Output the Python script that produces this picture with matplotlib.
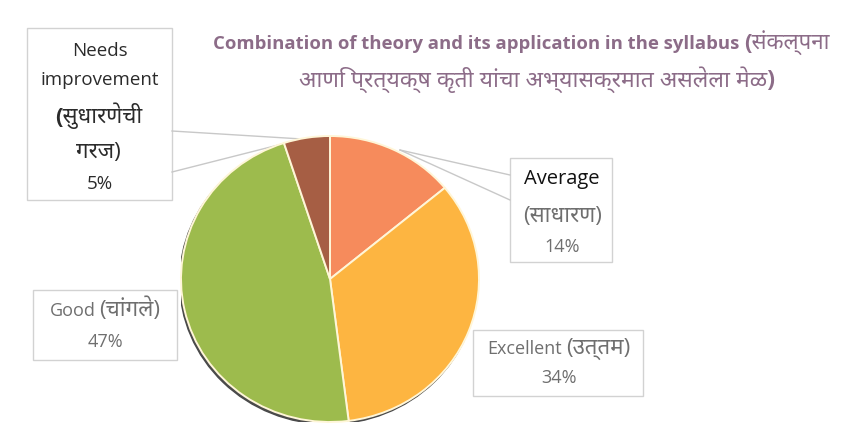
import matplotlib
matplotlib.use("Agg")
import matplotlib.pyplot as plt
from matplotlib import font_manager as fm
from matplotlib.ft2font import FT2Font
from matplotlib.patches import Rectangle, Ellipse

# ---------------- data ----------------
categories = ["Average", "Excellent", "Good", "Needs improvement"]
categories_mr = ["साधारण", "उत्तम", "चांगले", "सुधारणेची गरज"]
values = [14, 34, 47, 5]
colors = ["#F68B5C", "#FDB541", "#9DBB4D", "#A65E44"]
title_en = "Combination of theory and its application in the syllabus"
title_mr1 = "(संकल्पना"
title_mr2 = "आणि प्रत्यक्ष कृती यांचा अभ्यासक्रमात असलेला मेळ)"

# ---------------- fonts ----------------
cands = []
for f in fm.fontManager.ttflist:
    try:
        if 0x0915 in FT2Font(f.fname).get_charmap():
            cands.append(f)
    except Exception:
        pass

def score(f):
    n = f.name.lower()
    s = 0
    if "devanagari" in n:
        s += 10
    if "sans" in n:
        s += 3
    if "noto" in n:
        s += 2
    if "ui" in n:
        s -= 1
    return -s

deva = None
if cands:
    cands.sort(key=score)
    deva = cands[0].name
fams = ["Open Sans"] + ([deva] if deva else []) + ["DejaVu Sans"]
plt.rcParams["font.family"] = fams

W, H = 860, 436
fig = plt.figure(figsize=(W / 100, H / 100), dpi=100)
fig.patch.set_facecolor("white")
renderer = fig.canvas.get_renderer()

# overlay axes in pixel coordinates (y down)
ov = fig.add_axes([0, 0, 1, 1], zorder=0)
ov.set_xlim(0, W)
ov.set_ylim(H, 0)
ov.axis("off")

# pie axes
cx, cy, rx, ry = 330, 279, 149, 143
pa = fig.add_axes([(cx - rx) / W, 1 - (cy + ry) / H, 2 * rx / W, 2 * ry / H], zorder=2)
pa.patch.set_alpha(0)
pa.add_patch(Ellipse((-0.01, -0.016), 2.0, 2.0, color="#4a4a4a", zorder=0))
pa.pie(values, colors=colors, startangle=90, counterclock=False, radius=1.0,
       wedgeprops=dict(edgecolor="#FFF6D8", linewidth=1.4))
pa.set_aspect("auto")
pa.set_xlim(-1, 1)
pa.set_ylim(-1, 1)
pa.axis("off")


def seg_line(x, y_base, segs, ha="center", gap=4):
    """Draw segments (text, fontsize, color, weight) on one baseline."""
    texts = []
    for s, fs_, col, wt in segs:
        t = ov.text(0, y_base, s, fontsize=fs_, color=col, fontweight=wt,
                    va="baseline", ha="left")
        texts.append(t)
    widths = [t.get_window_extent(renderer).width for t in texts]
    total = sum(widths) + gap * (len(texts) - 1)
    x0 = x - total / 2 if ha == "center" else x
    for t, w in zip(texts, widths):
        t.set_x(x0)
        x0 += w + gap


# title
tcol = "#8C6C88"
seg_line(213, 49, [(title_en, 13.3, tcol, "bold"), (title_mr1, 16, tcol, "bold")],
         ha="left", gap=5)
ov.text(537, 80, title_mr2, ha="center", va="center", fontsize=16.5,
        fontweight="bold", color=tcol)

line_col = "#C8C8C8"
box_kw = dict(facecolor="white", edgecolor="#D2D2D2", linewidth=1.0)

def pct(v):
    return f"{v}%"

# pointers (callout lines)
ov.plot([172, 302], [131, 139], color=line_col, lw=1.0)
ov.plot([172, 302], [172, 139], color=line_col, lw=1.0)
ov.plot([400, 510], [150, 175], color=line_col, lw=1.0)
ov.plot([400, 510], [150, 200], color=line_col, lw=1.0)

# boxes
ov.add_patch(Rectangle((27, 28), 145, 172, **box_kw))      # Needs improvement
ov.add_patch(Rectangle((510, 158), 102, 104, **box_kw))    # Average
ov.add_patch(Rectangle((33, 290), 144, 70, **box_kw))      # Good
ov.add_patch(Rectangle((473, 330), 170, 66, **box_kw))     # Excellent

fs = 13
fsm = 16
dark = "#2b2b2b"
grey = "#6f6f6f"

# Needs improvement
ni = categories[3].split(" ")
ov.text(100, 51, ni[0], ha="center", va="center", fontsize=13.5, color=dark)
ov.text(100, 80, ni[1], ha="center", va="center", fontsize=13.5, color=dark)
mr = categories_mr[3].split(" ")
ov.text(99, 116, "(" + mr[0], ha="center", va="center", fontsize=fsm, color=dark, fontweight="bold")
ov.text(98, 152, mr[1] + ")", ha="center", va="center", fontsize=fsm, color=dark)
ov.text(100, 184, pct(values[3]), ha="center", va="center", fontsize=13.5, color=dark)

# Average
ov.text(562, 179, categories[0], ha="center", va="center", fontsize=14.5, color="#111111")
ov.text(563, 216, "(" + categories_mr[0] + ")", ha="center", va="center", fontsize=fsm, color=grey)
ov.text(562, 247, pct(values[0]), ha="center", va="center", fontsize=fs, color=grey)

# Good
seg_line(105, 316, [(categories[2], fs, grey, "normal"),
                    ("(" + categories_mr[2] + ")", fsm, grey, "normal")])
ov.text(105, 342, pct(values[2]), ha="center", va="center", fontsize=fs, color=grey)

# Excellent
seg_line(559, 354, [(categories[1], fs, grey, "normal"),
                    ("(" + categories_mr[1] + ")", fsm, grey, "normal")])
ov.text(559, 378, pct(values[1]), ha="center", va="center", fontsize=fs, color=grey)

fig.savefig("out.png", dpi=100, facecolor="white")
